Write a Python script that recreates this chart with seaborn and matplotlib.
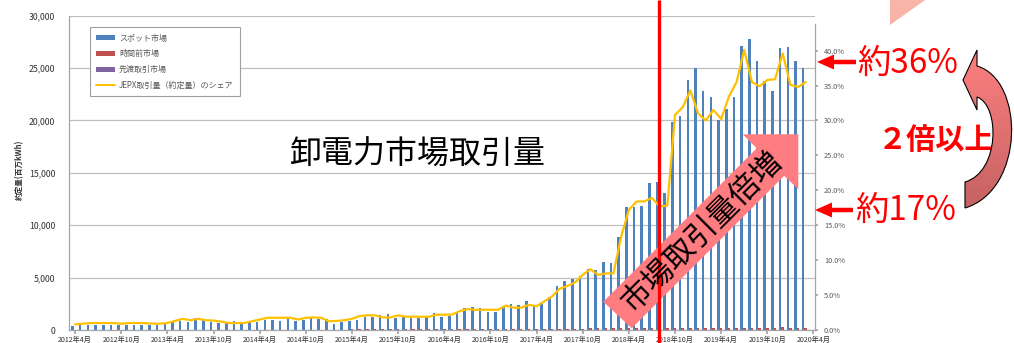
import numpy as np
import pandas as pd
import matplotlib
matplotlib.use("Agg")
import matplotlib.pyplot as plt
import seaborn as sns
from matplotlib.patches import Polygon, Patch, PathPatch
from matplotlib.lines import Line2D
from matplotlib.path import Path
from matplotlib.ticker import FuncFormatter

sns.set_theme(style="white")
plt.rcParams['font.family'] = ['Noto Sans CJK JP', 'DejaVu Sans']

# ---------------- data ----------------
series_names = ["スポット市場", "時間前市場", "先渡取引市場", "JEPX取引量（約定量）のシェア"]

# monthly spot volume (百万kWh), 2012-04 .. 2020-03
spot = [420, 460, 460, 470, 500, 430, 450, 500, 460, 450, 460, 500, 600, 750, 900,
        730, 1170, 950, 790, 640, 640, 880, 640, 790, 790, 950, 950, 880, 1210, 880, 950,
        1110, 1050, 1020, 540, 730, 860, 950, 1270, 1270, 1430, 1500, 1110, 1270, 1170, 1170, 1360,
        1590, 1270, 1360, 1590, 2070, 2220, 2070, 1740, 1740, 2310, 2480, 2380, 2760, 2310, 2600, 3170,
        4190, 4690, 4830, 5140, 5780, 5710,
        6520, 6360, 8840, 11710, 11710, 11860, 14050, 14150, 13100, 19870, 20420, 23850, 24970,
        22830, 22260, 20030, 21080, 22260, 27090, 27730, 25660, 23760, 22800, 26930, 27030, 25690, 24970]

# monthly intraday volume (百万kWh)
intraday = [15, 15, 18, 20, 20, 18, 15, 15, 20, 20, 18, 20, 20, 25, 25, 25, 30, 25, 20, 20, 25, 25, 25, 25,
            30, 35, 40, 40, 35, 30, 30, 35, 35, 40, 40, 45, 50, 55, 60, 70, 70, 60, 60, 70, 70, 80, 75, 70,
            80, 80, 90, 100, 100, 110, 110, 100, 100, 110, 110, 120, 130, 120, 110, 120, 130, 140, 140, 150,
            150, 160, 150, 150, 160, 170, 170, 180, 180, 190, 180, 190, 200, 200, 210, 200, 200, 210, 220,
            230, 220, 210, 220, 230, 240, 230, 220, 230]

# JEPX share of demand (%)
share = [0.8, 0.9, 1.0, 1.0, 1.0, 1.0, 0.9, 1.0, 1.0, 1.0, 0.9, 0.9, 1.0, 1.3, 1.6,
         1.4, 1.6, 1.4, 1.35, 1.2, 1.0, 1.0, 1.0, 1.25, 1.5, 1.75, 1.75, 1.75, 1.75, 1.5, 1.75,
         1.8, 1.75, 1.25, 1.3, 1.4, 1.6, 2.0, 2.1, 2.1, 1.8, 1.8, 2.1, 1.9, 1.9, 1.9, 1.9,
         2.2, 2.2, 2.2, 2.7, 3.0, 2.9, 2.9, 2.9, 2.9, 3.5, 3.2, 3.2, 3.6, 3.4, 4.1, 4.8,
         5.9, 6.3, 6.8, 7.9, 8.7, 7.9,
         8.1, 8.1, 13.4, 17.2, 18.4, 18.4, 18.9, 17.7, 17.8, 30.8, 31.9, 34.3, 31.0,
         30.0, 31.5, 30.2, 33.4, 35.5, 40.1, 35.5, 34.9, 35.8, 35.9, 39.6, 35.1, 34.8, 35.5]

tick_labels = ["2012年4月", "2012年10月", "2013年4月", "2013年10月", "2014年4月", "2014年10月",
               "2015年4月", "2015年10月", "2016年4月", "2016年10月", "2017年4月", "2017年10月",
               "2018年4月", "2018年10月", "2019年4月", "2019年10月", "2020年4月"]

colors = ["#4F81BD", "#C0504D", "#8064A2", "#FFC000"]

n = len(spot)
idx = np.arange(n)
df = pd.DataFrame({
    "month": np.concatenate([idx, idx]),
    "volume": spot + intraday,
    "market": [series_names[0]] * n + [series_names[1]] * n,
})

# ---------------- figure ----------------
W, H = 1014, 343
fig = plt.figure(figsize=(W / 100, H / 100), dpi=100)
ax = fig.add_axes([69 / W, 13 / H, (815 - 69) / W, (330 - 15.7) / H])

sns.barplot(data=df, x="month", y="volume", hue="market", hue_order=series_names[:3],
            palette=colors[:3], width=1.0, saturation=1, errorbar=None,
            legend=False, ax=ax, linewidth=0)

ax.set_ylim(0, 30000)
ax.set_xlim(-0.79, 96.2)
ax.set_yticks(np.arange(0, 30001, 5000))
ax.yaxis.set_major_formatter(FuncFormatter(lambda v, p: f"{int(v):,}"))
ax.set_xticks(np.arange(0, 97, 6))
ax.set_xticklabels(tick_labels)
ax.set_xlabel("")
ax.set_ylabel("")
ax.yaxis.grid(True, color="#BFBFBF", linewidth=0.9)
ax.xaxis.grid(False)
ax.set_axisbelow(True)
for s in ["top", "right"]:
    ax.spines[s].set_visible(False)
for s in ["left", "bottom"]:
    ax.spines[s].set_color("#A6A6A6")
    ax.spines[s].set_linewidth(0.9)
ax.tick_params(axis="y", labelsize=6.3, labelcolor="#333333", length=0, pad=10)
ax.tick_params(axis="x", labelsize=5.1, labelcolor="#333333", length=3, color="#A6A6A6",
               direction="out", pad=1.5, bottom=True)

ax2 = ax.twinx()
sns.lineplot(x=idx, y=share, ax=ax2, color=colors[3], linewidth=1.6)
ax2.set_ylim(0, 45)
ax2.set_xlim(-0.79, 96.2)
ax2.set_yticks(np.arange(0, 41, 5))
ax2.yaxis.set_major_formatter(FuncFormatter(lambda v, p: f"{v:.1f}%"))
for s in ["top", "left", "bottom"]:
    ax2.spines[s].set_visible(False)
ax2.spines["right"].set_color("#A6A6A6")
ax2.spines["right"].set_linewidth(0.9)
ax2.spines["right"].set_bounds(0, 43.8)
ax2.tick_params(axis="y", labelsize=5.3, labelcolor="#595959", length=2.5, color="#A6A6A6",
                direction="out", pad=4, right=True)
ax2.set_ylabel("")

# legend
handles = [Patch(facecolor=c, edgecolor="none") for c in colors[:3]] + \
          [Line2D([0], [0], color=colors[3], lw=1.4)]
leg = ax2.legend(handles, series_names, loc="upper left", bbox_to_anchor=(0.028, 0.964),
                 borderaxespad=0, fontsize=5.8, frameon=True, fancybox=False,
                 edgecolor="#A0A0A0", framealpha=1, handlelength=2.3, handleheight=0.55,
                 labelspacing=0.85, handletextpad=0.5, borderpad=0.8)
leg.get_frame().set_linewidth(0.8)
for t in leg.get_texts():
    t.set_color("#595959")

fig.text(20 / W, 1 - 170 / H, "約定量(百万kWh)", rotation=90, fontsize=5.5,
         fontweight="bold", color="#333333", ha="center", va="center")

# ---------------- overlay annotations (pixel coordinates) ----------------
ov = fig.add_axes([0, 0, 1, 1])
ov.set_xlim(0, W)
ov.set_ylim(H, 0)
ov.axis("off")
ov.set_zorder(10)

ov.text(417, 155, "卸電力市場取引量", fontsize=23, color="black", ha="center", va="center")

# big diagonal arrow
arrow_pts = [(603.3, 301.7), (756.7, 148.3), (742.7, 134.3), (798.3, 134.3),
             (798.3, 189.3), (784.2, 175.8), (631.7, 328.3)]
ov.add_patch(Polygon(arrow_pts, closed=True, facecolor="#FF7C80", edgecolor="none", zorder=2))
# vertical red line
ov.plot([659, 659], [0, H], color="#FF0000", lw=2.4, solid_capstyle="butt", zorder=3)
ov.text(702, 232, "市場取引量倍増", fontsize=22, color="black", rotation=45,
        rotation_mode="anchor", ha="center", va="center", zorder=4)

# small red arrows + labels
def red_arrow(x_tip, x_tail, y):
    hl, hw, sw = 17, 15, 4.5
    pts = [(x_tip, y), (x_tip + hl, y - hw / 2), (x_tip + hl, y - sw / 2), (x_tail, y - sw / 2),
           (x_tail, y + sw / 2), (x_tip + hl, y + sw / 2), (x_tip + hl, y + hw / 2)]
    ov.add_patch(Polygon(pts, closed=True, facecolor="#FF0000", edgecolor="none", zorder=5))

red_arrow(817, 856, 62)
red_arrow(815, 853, 210)
ov.text(857, 63, "約36%", fontsize=24, color="#FF0000", ha="left", va="center", zorder=5)
ov.text(855, 210, "約17%", fontsize=24, color="#FF0000", ha="left", va="center", zorder=5)
ov.text(936, 140, "２倍以上", fontsize=21, color="#FF0000", fontweight="bold",
        ha="center", va="center", zorder=5)

# curved arrow on the right
verts = [(963, 80), (977, 50), (977, 66),
         (1025, 80), (1025, 190), (965, 208),
         (965, 182),
         (1000, 172), (1000, 105), (977, 97),
         (977, 110), (963, 80)]
codes = [Path.MOVETO, Path.LINETO, Path.LINETO,
         Path.CURVE4, Path.CURVE4, Path.CURVE4,
         Path.LINETO,
         Path.CURVE4, Path.CURVE4, Path.CURVE4,
         Path.LINETO, Path.CLOSEPOLY]
cpath = Path(verts, codes)
clip = PathPatch(cpath, facecolor="none", edgecolor="none", transform=ov.transData)
ov.add_patch(clip)
grad = np.linspace(0, 1, 100).reshape(-1, 1)
cmap = matplotlib.colors.LinearSegmentedColormap.from_list("g", ["#FF8080", "#C46262"])
im = ov.imshow(grad, cmap=cmap, extent=(955, 1020, 212, 46), aspect="auto", zorder=5,
               interpolation="bilinear")
im.set_clip_path(clip)
ov.add_patch(PathPatch(cpath, facecolor="none", edgecolor="black", lw=0.8, zorder=6))
ov.set_xlim(0, W)
ov.set_ylim(H, 0)

# partial pink shape at top
ov.add_patch(Polygon([(890, 0), (925, 0), (890, 25)], closed=True,
                     facecolor="#F7B4A7", edgecolor="none", zorder=5))

fig.savefig("out.png", dpi=100)
